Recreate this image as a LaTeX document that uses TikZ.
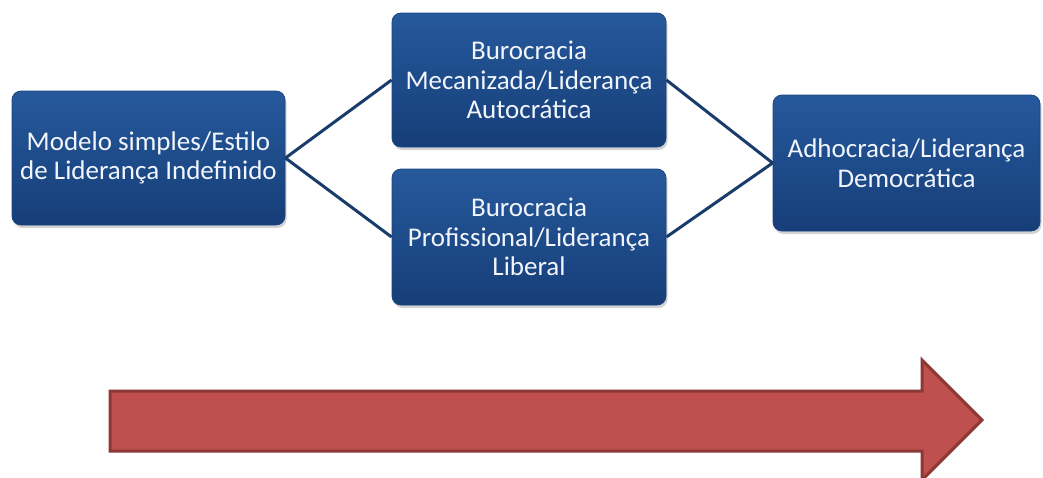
\documentclass[tikz,border=0pt]{standalone}
\usepackage{fontspec}
\setmainfont{Carlito}
\usetikzlibrary{shadows}
\definecolor{boxtop}{HTML}{26599C}
\definecolor{boxbot}{HTML}{163E78}
\definecolor{boxedge}{HTML}{1B4680}
\definecolor{connc}{HTML}{1A3C6B}
\definecolor{arrfill}{HTML}{C0504D}
\definecolor{arredge}{HTML}{8C3836}
\definecolor{boxtext}{HTML}{F2F6FC}
\tikzset{
  stagebox/.style={rectangle, rounded corners=9pt, top color=boxtop, bottom color=boxbot,
    draw=boxedge, line width=0.8pt, text=boxtext, align=center, inner sep=0pt,
    font=\fontsize{27}{29.5}\selectfont,
    drop shadow={opacity=0.35, shadow xshift=1.5pt, shadow yshift=-3pt}},
  conn/.style={draw=connc, line width=3pt},
  bigarrow/.style={fill=arrfill, draw=arredge, line width=3pt, line join=miter}
}
\begin{document}
\begin{tikzpicture}[x=1pt,y=-1pt]
\clip (0,0) rectangle (1043,477);
\fill[white] (0,0) rectangle (1043,477);
\node[stagebox, minimum width=273pt, minimum height=134pt] (m1) at (148.5,158) {Modelo simples/Estilo\\de Liderança Indefinido};
\node[stagebox, minimum width=274pt, minimum height=134pt] (m2) at (529,80) {Burocracia\\Mecanizada/Liderança\\Autocrática};
\node[stagebox, minimum width=274pt, minimum height=136pt] (m3) at (529,237) {Burocracia\\Profissional/Liderança\\Liberal};
\node[stagebox, minimum width=267pt, minimum height=136pt] (m4) at (906.5,163) {Adhocracia/Liderança\\Democrática};
\draw[conn] (m1.east) -- (m2.west);
\draw[conn] (m1.east) -- (m3.west);
\draw[conn] (m2.east) -- (m4.west);
\draw[conn] (m3.east) -- (m4.west);
\draw[bigarrow] (110,391) -- (922,391) -- (922,360) -- (982,420) -- (922,480) -- (922,451) -- (110,451) -- cycle;
\end{tikzpicture}
\end{document}
